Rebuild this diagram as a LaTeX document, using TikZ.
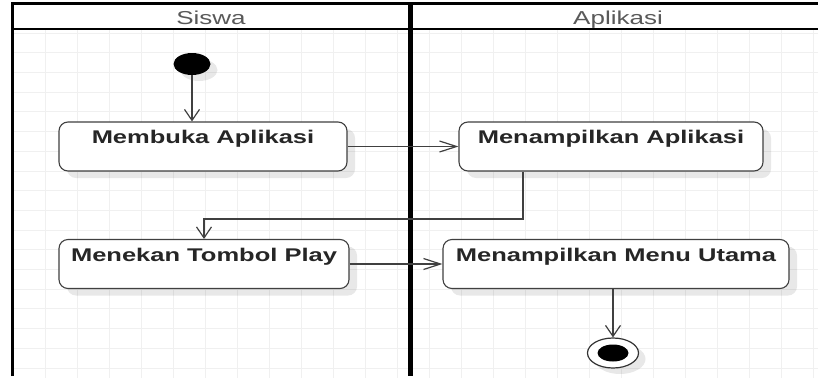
\documentclass[tikz,border=0pt]{standalone}
\usepackage{fontspec}
\setmainfont{Liberation Sans}
\usepackage{graphicx}
\usetikzlibrary{positioning,shapes.geometric,shadows,arrows.meta}

% flattened text, the lanes are drawn squeezed in height
\newcommand{\squashed}[1]{\scalebox{1}[0.72]{#1}}

\begin{document}
\begin{tikzpicture}[x=1pt, y=-1pt,
						gridline/.style={draw=black!6, line width=0.8pt},
						lanehead/.style={rectangle, inner sep=0pt, anchor=base, text=black!65, font=\fontsize{26}{26}\selectfont},
						act/.style={rectangle, draw=black!75, line width=1.1pt, rounded corners=9pt, fill=white, text=black!85, font=\fontsize{25.5}{26}\selectfont\bfseries, inner xsep=0pt, inner ysep=0pt, text height=21.5pt, text depth=27.5pt, drop shadow={shadow xshift=8pt, shadow yshift=-7pt, fill=black, opacity=0.09}},
						initial/.style={ellipse, fill=black, inner sep=0pt, minimum width=37pt, minimum height=22pt, drop shadow={shadow xshift=7pt, shadow yshift=-6pt, fill=black, opacity=0.09}},
						final/.style={ellipse, draw=black!80, line width=1.2pt, fill=white, inner sep=0pt, minimum width=51pt, minimum height=30pt, drop shadow={shadow xshift=7pt, shadow yshift=-6pt, fill=black, opacity=0.09}},
						finaldot/.style={ellipse, fill=black, inner sep=0pt, minimum width=31pt, minimum height=17pt},
						flow/.style={draw=black!75, line width=1.2pt},
						hflow/.style={flow, -{Straight Barb[length=17pt, width=11pt]}},
						vflow/.style={flow, -{Straight Barb[length=11pt, width=15pt]}}
					]
					\useasboundingbox (0,0) rectangle (818,378);
					\fill[white] (0,0) rectangle (818,378);
					\foreach \x in {45,77,...,813}
						\draw[gridline] (\x,29) -- (\x,378);
					\foreach \y in {33,52.7,...,375}
						\draw[gridline] (12,\y) -- (818,\y);
					% swimlanes
					\draw[line width=3pt] (12,376) -- (12,3) -- (818,3);
					\draw[line width=2pt] (12,29) -- (818,29);
					\draw[line width=5pt] (410,3) -- (410,376);
					\node[lanehead] (siswa) at (211,24) {\squashed{Siswa}};
					\node[lanehead] (aplikasi) at (618,24) {\squashed{Aplikasi}};
					% activities
					\node[initial] (start) at (192,64) {};
					\node[act, minimum width=288pt] (membuka) at (203,146.5) {\squashed{Membuka Aplikasi}};
					\node[act, minimum width=304pt] (tampilapp) at (611,146.5) {\squashed{Menampilkan Aplikasi}};
					\node[act, minimum width=290pt] (menekan) at (204,264) {\squashed{Menekan Tombol Play}};
					\node[act, minimum width=346pt] (tampilmenu) at (616,264) {\squashed{Menampilkan Menu Utama}};
					\node[final] (finish) at (613,353) {};
					\node[finaldot] (finishdot) at (finish) {};
					\coordinate (turn) at (523,219);
					\draw[vflow] (start.south) -- (start.south |- membuka.north);
					\draw[hflow] (membuka.east) -- (tampilapp.west);
					\draw[vflow] (tampilapp.south -| turn) -- (turn) -| (menekan.north);
					\draw[hflow] (menekan.east) -- (tampilmenu.west);
					\draw[vflow] (tampilmenu.south -| finish) -- (finish.north);
					\end{tikzpicture}
\end{document}
